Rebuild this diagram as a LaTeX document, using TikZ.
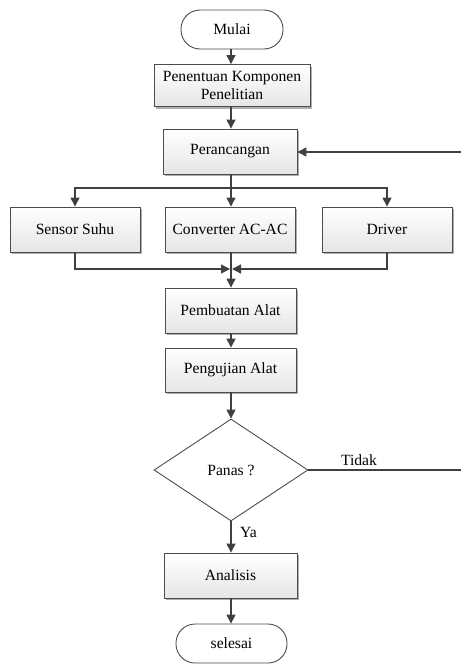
\documentclass[tikz,border=0pt]{standalone}
\usepackage{fontspec}
\setmainfont{Liberation Serif}
\usetikzlibrary{arrows.meta,shapes.geometric,shadows}
\begin{document}
\begin{tikzpicture}[x=1pt,y=-1pt,
  line col/.style={draw=black!70},
  txt/.style={font=\rmfamily\fontsize{15.6}{18.5}\selectfont},
  procbox/.style={rectangle, line col, line width=0.9pt, top color=white, bottom color=black!10,
     inner sep=0pt, align=center, txt,
     drop shadow={shadow xshift=2pt, shadow yshift=-2pt, fill=black!45, opacity=0.7}},
  termbox/.style={rectangle, rounded corners=19pt, line col, line width=0.9pt, fill=white,
     inner sep=0pt, minimum width=#1, minimum height=39pt, txt},
  decbox/.style={diamond, line col, line width=0.9pt, fill=white, inner sep=0pt, aspect=1.5,
     minimum width=154pt, minimum height=102pt, txt},
  arr/.style={draw=black!75, line width=1.3pt, -{Triangle[length=9pt,width=9pt]}},
  ln/.style={draw=black!75, line width=1.3pt},
  lbl/.style={txt, inner sep=0pt}
]
\useasboundingbox (0,0) rectangle (461,664);
\node[termbox=102pt] (mulai) at (232,29.5) {Mulai};
\node[procbox, minimum width=156pt, minimum height=42pt] (pen) at (232,85.5) {Penentuan Komponen\\Penelitian};
\node[procbox, minimum width=134pt, minimum height=45pt] (per) at (230,151.5) {Perancangan};
\node[procbox, minimum width=130pt, minimum height=45pt] (sensor) at (75,229.5) {Sensor Suhu};
\node[procbox, minimum width=130pt, minimum height=45pt] (conv) at (230,229.5) {Converter AC-AC};
\node[procbox, minimum width=130pt, minimum height=45pt] (driver) at (387,229.5) {Driver};
\node[procbox, minimum width=131pt, minimum height=45pt] (pemb) at (230.5,310.5) {Pembuatan Alat};
\node[procbox, minimum width=131pt, minimum height=44pt] (peng) at (230.5,370) {Pengujian Alat};
\node[decbox] (panas) at (231,470) {Panas ?};
\node[procbox, minimum width=133pt, minimum height=45pt] (anal) at (230.5,575.5) {Analisis};
\node[termbox=111pt] (selesai) at (231.5,643.5) {selesai};

\coordinate (split) at (231,188);
\coordinate (merge) at (231,269);
\coordinate (loopA) at (461,152);
\coordinate (loopB) at (461,470);

\draw[arr] (mulai.south -| split) -- (pen.north -| split);
\draw[arr] (pen.south -| split) -- (per.north -| split);
\draw[ln] (per.south -| split) -- (split);
\draw[arr] (split) -| (sensor.north);
\draw[arr] (split) -- (conv.north -| split);
\draw[arr] (split) -| (driver.north);
\draw[arr, shorten >=1pt] (sensor.south) |- (merge);
\draw[arr, shorten >=1pt] (driver.south) |- (merge);
\draw[arr] (conv.south -| merge) -- (pemb.north -| merge);
\draw[arr] (pemb.south -| merge) -- (peng.north -| merge);
\draw[arr] (peng.south -| panas) -- (panas.north);
\draw[arr] (panas.south) -- (anal.north -| panas);
\draw[arr] (anal.south -| panas) -- (selesai.north -| panas);
\draw[ln] (panas.east) -- (loopB);
\draw[arr] (loopA) -- (per.east |- loopA);

\node[lbl] (tidak) at (359,460) {Tidak};
\node[lbl, anchor=west] (ya) at (240,532) {Ya};
\end{tikzpicture}
\end{document}
